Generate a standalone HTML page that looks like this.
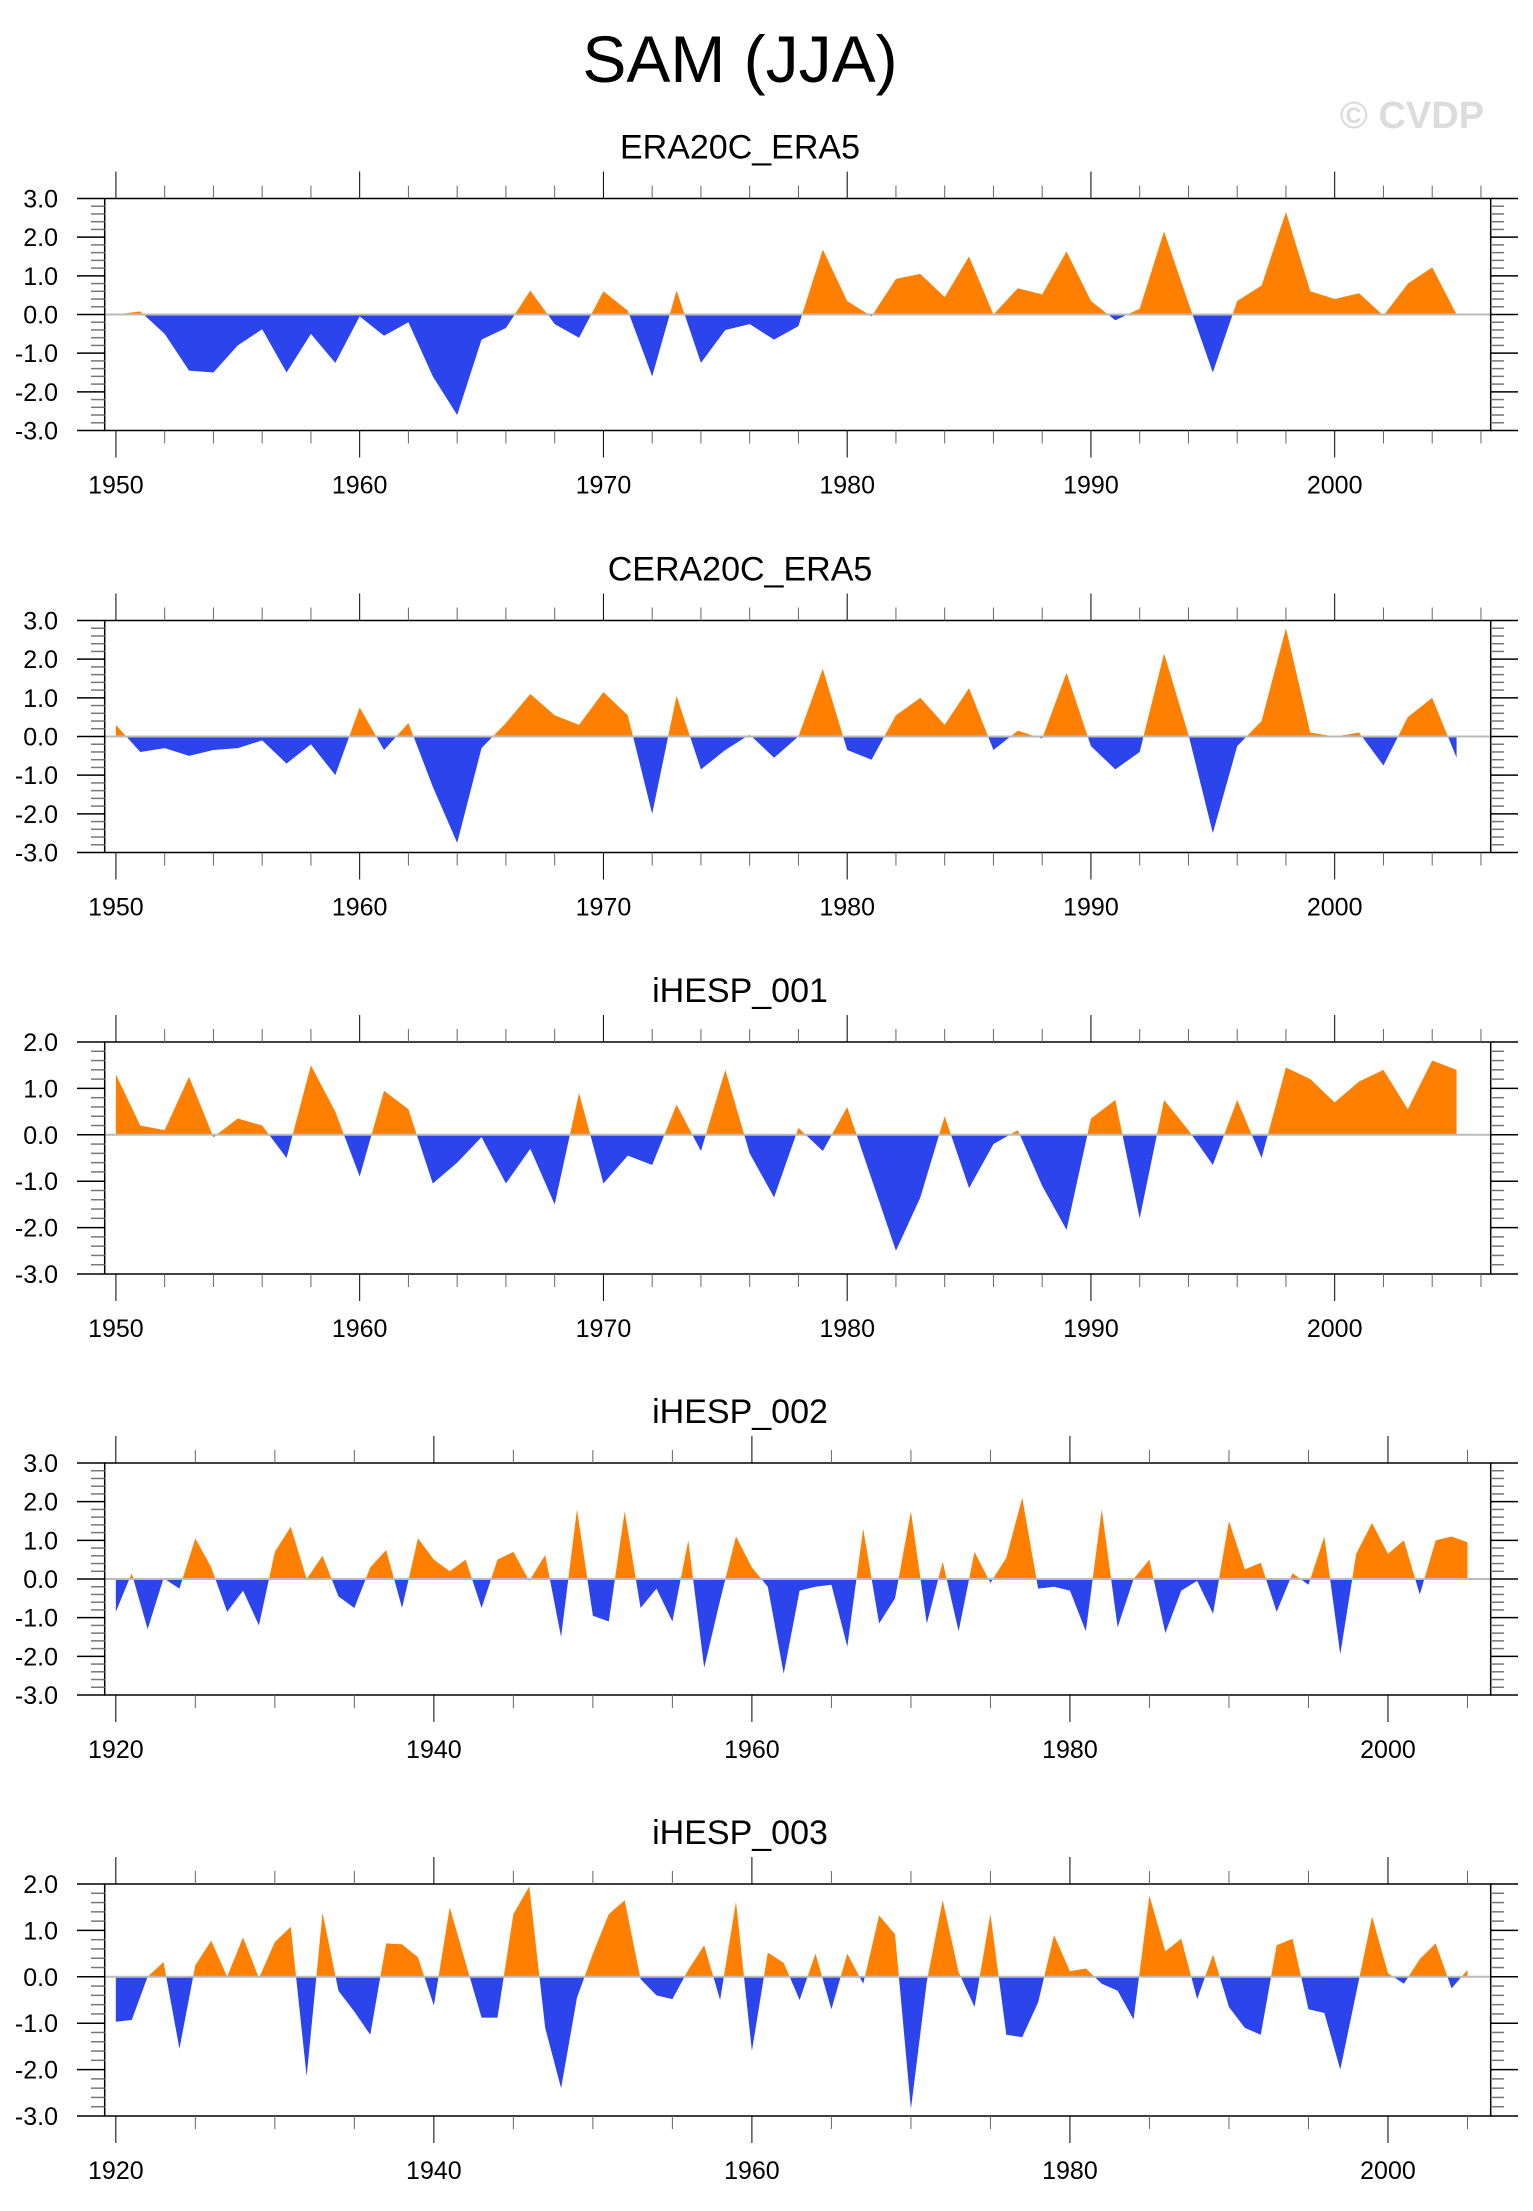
<!DOCTYPE html>
<html><head><meta charset="utf-8"><title>SAM (JJA)</title>
<style>
html,body{margin:0;padding:0;background:#fff;}
svg{display:block;font-family:"Liberation Sans",sans-serif;}
</style></head>
<body>
<svg id="fig" width="1533" height="2211" viewBox="0 0 1533 2211">
<text x="740" y="82" font-size="66" text-anchor="middle">SAM (JJA)</text>
<text x="1412" y="128" font-size="38" font-weight="bold" fill="#dcdcdc" text-anchor="middle">© CVDP</text>
</svg>
<script>
// ---- data ----
const panelTitles = ["ERA20C_ERA5","CERA20C_ERA5","iHESP_001","iHESP_002","iHESP_003"];
const startYears = [1950,1950,1950,1920,1920];
const yTopValues = [3,3,2,3,2];
const xTickLabels1950 = [1950,1960,1970,1980,1990,2000];
const xTickLabels1920 = [1920,1940,1960,1980,2000];
const era20c = [0,0.08,-0.5,-1.45,-1.5,-0.8,-0.38,-1.5,-0.5,-1.25,-0.05,-0.55,-0.2,-1.6,-2.6,-0.65,-0.35,0.62,-0.25,-0.6,0.6,0.1,-1.6,0.62,-1.25,-0.4,-0.25,-0.65,-0.3,1.68,0.35,-0.05,0.92,1.05,0.45,1.5,0,0.68,0.52,1.63,0.35,-0.15,0.15,2.15,0.3,-1.5,0.35,0.75,2.65,0.6,0.4,0.55,-0.03,0.8,1.22,0];
const cera20c = [0.3,-0.4,-0.3,-0.5,-0.35,-0.3,-0.1,-0.7,-0.2,-1.0,0.75,-0.35,0.35,-1.3,-2.75,-0.3,0.35,1.1,0.55,0.3,1.15,0.55,-2.0,1.05,-0.85,-0.35,0.05,-0.55,0,1.75,-0.35,-0.6,0.55,1.0,0.3,1.25,-0.35,0.15,-0.05,1.65,-0.25,-0.85,-0.4,2.15,0.05,-2.5,-0.25,0.4,2.8,0.1,0.0,0.1,-0.75,0.5,1.0,-0.55];
const ihesp001 = [1.3,0.2,0.1,1.25,-0.05,0.35,0.2,-0.5,1.5,0.5,-0.9,0.95,0.55,-1.05,-0.6,-0.05,-1.05,-0.3,-1.5,0.9,-1.05,-0.45,-0.65,0.65,-0.35,1.4,-0.4,-1.35,0.15,-0.35,0.6,-0.95,-2.5,-1.35,0.4,-1.15,-0.2,0.1,-1.1,-2.05,0.35,0.75,-1.8,0.75,0.1,-0.65,0.75,-0.5,1.45,1.2,0.7,1.15,1.4,0.55,1.6,1.4];
const ihesp002 = [-0.85,0.15,-1.3,0.02,-0.25,1.05,0.3,-0.85,-0.3,-1.2,0.7,1.35,0.0,0.6,-0.45,-0.75,0.3,0.75,-0.75,1.05,0.5,0.2,0.5,-0.75,0.5,0.7,-0.05,0.62,-1.5,1.8,-0.95,-1.1,1.75,-0.75,-0.25,-1.1,1.0,-2.3,-0.55,1.1,0.3,-0.2,-2.45,-0.3,-0.2,-0.15,-1.75,1.3,-1.15,-0.5,1.75,-1.15,0.45,-1.35,0.7,-0.1,0.55,2.1,-0.25,-0.2,-0.3,-1.35,1.8,-1.25,0.0,0.5,-1.4,-0.3,-0.05,-0.9,1.5,0.25,0.42,-0.85,0.15,-0.15,1.1,-1.95,0.65,1.45,0.65,1.0,-0.4,1.0,1.1,0.95];
const ihesp003 = [-0.97,-0.93,0.0,0.32,-1.55,0.25,0.78,0.0,0.85,-0.03,0.75,1.08,-2.15,1.38,-0.3,-0.75,-1.25,0.72,0.7,0.42,-0.62,1.5,0.3,-0.88,-0.88,1.35,1.95,-1.1,-2.4,-0.45,0.5,1.35,1.65,-0.05,-0.4,-0.48,0.15,0.68,-0.5,1.62,-1.6,0.52,0.3,-0.5,0.5,-0.7,0.5,-0.15,1.32,0.92,-2.85,-0.1,1.65,0.1,-0.65,1.35,-1.25,-1.3,-0.55,0.9,0.12,0.18,-0.15,-0.3,-0.92,1.75,0.55,0.82,-0.48,0.48,-0.65,-1.1,-1.25,0.68,0.82,-0.7,-0.78,-2.0,-0.35,1.3,0.08,-0.15,0.38,0.72,-0.25,0.15];
const seriesList = [era20c,cera20c,ihesp001,ihesp002,ihesp003];

// ---- layout ----
const NS="http://www.w3.org/2000/svg";
const svg=document.getElementById('fig');
const L=104.7,R=1490.7,PH=232;
const tops=[198.5,620.5,1042,1463,1884];
function mk(tag,attrs,parent){const e=document.createElementNS(NS,tag);for(const k in attrs)e.setAttribute(k,attrs[k]);(parent||svg).appendChild(e);return e;}

for(let p=0;p<5;p++){
  const top=tops[p],bot=top+PH;
  const yMax=yTopValues[p],yMin=-3;
  const is50=startYears[p]===1950;
  const x0=is50?1949.54:1919.3, x1=is50?2006.4:2006.46;
  const xs=v=>L+(v-x0)/(x1-x0)*(R-L);
  const ys=v=>top+(yMax-v)/(yMax-yMin)*PH;
  const g=mk('g',{});
  
  
  const t=mk('text',{x:740,y:top-40,'font-size':34,'text-anchor':'middle'},g);
  t.textContent=panelTitles[p];
  
  
  const data=seriesList[p], y0=startYears[p];
  let d='M'+xs(y0)+','+ys(0);
  data.forEach((v,i)=>{d+=' L'+xs(y0+i)+','+ys(v);});
  d+=' L'+xs(y0+data.length-1)+','+ys(0)+' Z';
  const cid='c'+p;
  const defs=mk('defs',{},g);
  const cpUp=mk('clipPath',{id:cid+'u'},defs);mk('rect',{x:L,y:top,width:R-L,height:ys(0)-top},cpUp);
  const cpDn=mk('clipPath',{id:cid+'d'},defs);mk('rect',{x:L,y:ys(0),width:R-L,height:bot-ys(0)},cpDn);
  const a1=mk('path',{d:d,fill:'#ff8000','clip-path':'url(#'+cid+'u)'},g);
  
  
  const a2=mk('path',{d:d,fill:'#2b44ec','clip-path':'url(#'+cid+'d)'},g);
  
  
  const zl=mk('line',{x1:L,x2:R,y1:ys(0),y2:ys(0),stroke:'#bbb','stroke-width':2},g);
  
  
  const fr=mk('rect',{x:L,y:top,width:R-L,height:PH,fill:'none',stroke:'#000','stroke-width':1.5},g);
  
  
  // y ticks
  for(let k=0;k<=(yMax-yMin)*5;k++){
    const v=yMin+k*0.2, yy=ys(v), major=(k%5===0);
    mk('line',{x1:major?77:91,x2:L,y1:yy,y2:yy,stroke:major?'#000':'#777','stroke-width':1.5},g);
    mk('line',{x1:R,x2:major?1518:1504,y1:yy,y2:yy,stroke:major?'#000':'#777','stroke-width':1.5},g);
    if(major){
      const lt=mk('text',{x:58,y:yy+9,'font-size':25,'text-anchor':'end'},g);
      lt.textContent=v.toFixed(1);
      
      
    }
  }
  // x ticks
  const labels=is50?xTickLabels1950:xTickLabels1920;
  const minorStep=is50?2:5, majorStep=is50?10:20;
  for(let yr=startYears[p];yr<=2006;yr+=minorStep){
    const xx=xs(yr), major=((yr-startYears[p])%majorStep===0);
    const len=major?27:13;
    mk('line',{x1:xx,x2:xx,y1:top-len,y2:top,stroke:major?'#000':'#666','stroke-width':1},g);
    mk('line',{x1:xx,x2:xx,y1:bot,y2:bot+len,stroke:major?'#000':'#666','stroke-width':1},g);
  }
  labels.forEach(lb=>{
    const xt=mk('text',{x:xs(lb),y:bot+63,'font-size':25,'text-anchor':'middle'},g);
    xt.textContent=lb;
    
    
  });
}
</script>
</body></html>
